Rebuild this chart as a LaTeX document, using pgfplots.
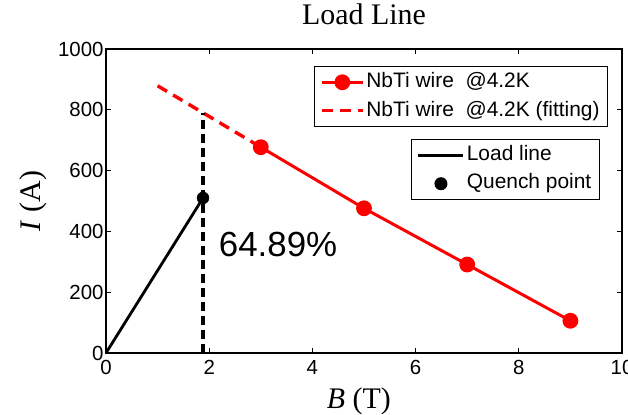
\documentclass[border=0pt]{standalone}
\usepackage{fontspec}
\setmainfont{Liberation Sans}
\newfontfamily\serif{Liberation Serif}
\usepackage{pgfplots}
\pgfplotsset{compat=1.18}

\pgfplotsset{
  base/.style={
    width=516bp, height=304bp, scale only axis,
    xmin=0, xmax=10, ymin=0, ymax=1000,
  },
  leg/.style={
    legend style={draw=black, line width=1bp, fill=white,
      font=\fontsize{21}{25}\selectfont, cells={anchor=west},
      inner xsep=6bp, inner ysep=3.5bp, row sep=4bp,
      nodes={inner sep=2bp, text height=15.5bp, text depth=5bp}},
  },
  markline/.style={legend image code/.code={\draw[mark repeat=2,mark phase=2,##1, line width=3bp]
    plot coordinates {(0bp,0bp) (20.5bp,0bp) (41bp,0bp)};}},
  longline/.style={legend image code/.code={\draw[##1, line width=2.8bp] (0bp,0bp) -- (45bp,0bp);}},
  dotonly/.style={legend image code/.code={\path[draw=none] (0bp,0bp) -- (45bp,0bp);
    \draw[##1, only marks] plot coordinates {(22.5bp,0bp)};}},
}

\begin{document}
\begin{tikzpicture}
\begin{axis}[base, name=ax, leg, markline,
  xtick={0,2,...,10}, ytick={0,200,...,1000},
  tick align=inside, major tick length=5bp,
  axis line style={line width=1.3bp},
  every tick/.style={black, line width=1.1bp},
  tick label style={font=\fontsize{20.5}{24}\selectfont},
  /pgf/number format/assume math mode=true,
  /pgf/number format/1000 sep={},
  scaled ticks=false,
  xticklabel style={yshift=-4bp},
  yticklabel style={xshift=1bp},
  title={Load Line},
  title style={at={(axis description cs:0.5,1.0625)}, anchor=base,
    font=\serif\fontsize{30}{36}\selectfont},
  xlabel={\textit{B} (T)},
  xlabel style={at={(axis description cs:0.49,-0.181)}, anchor=base,
    font=\serif\fontsize{30}{36}\selectfont},
  ylabel={\textit{I} (A)},
  ylabel style={at={(axis description cs:-0.1277,0.5)}, anchor=base, rotate=0,
    font=\serif\fontsize{30}{36}\selectfont},
  legend style={at={(0.973,0.944)}, anchor=north east},
]
\addplot[red, line width=3bp, mark=*, mark size=6.4bp,
  mark options={fill=red, draw=red, solid}]
  coordinates {(3,677) (5,476) (7,291) (9,106)};
\addlegendentry{NbTi wire \ @4.2K}
\addplot[red, line width=3.4bp, dash pattern=on 11bp off 7bp]
  coordinates {(1,879) (3,677)};
\addlegendentry{NbTi wire \ @4.2K (fitting)}
\end{axis}

\begin{axis}[base, hide axis, leg,
  legend style={at={(0.957,0.704)}, anchor=north east},
]
\addplot[black, line width=3.2bp, dash pattern=on 9bp off 5bp, forget plot]
  coordinates {(1.88,0) (1.88,790)};
\addplot[black, line width=2.8bp, longline]
  coordinates {(0,0) (1.88,510)};
\addlegendentry{Load line}
\addplot[only marks, mark=*, mark size=6bp, black, dotonly]
  coordinates {(1.88,510)};
\addlegendentry{Quench point}
\node[anchor=base west, font=\fontsize{35}{42}\selectfont]
  at (axis cs:2.12,317) {64.89\%};
\end{axis}

\pgfresetboundingbox
\path ([shift={(-106bp,-62bp)}]ax.south west) rectangle ++(628bp,415bp);
\end{tikzpicture}
\end{document}
